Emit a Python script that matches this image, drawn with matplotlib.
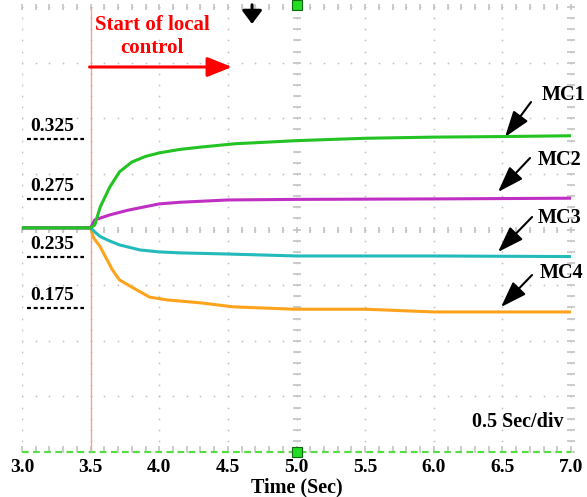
import matplotlib.pyplot as plt
import numpy as np

plt.rcParams['font.family'] = ['Liberation Serif', 'DejaVu Serif']
plt.rcParams['font.weight'] = 'bold'

# Per-unit power share of each microgrid controller
t_mc1 = [3.0, 3.5, 3.53, 3.57, 3.64, 3.71, 3.80, 3.90, 4.0, 4.15, 4.3, 4.55, 5.0, 5.5, 6.0, 6.5, 7.0]
mc1 = [0.250, 0.250, 0.2525, 0.2681, 0.2850, 0.2975, 0.3057, 0.3104, 0.3133, 0.3162, 0.3181,
       0.3209, 0.3235, 0.3255, 0.3265, 0.3270, 0.3277]

t_mc2 = [3.0, 3.5, 3.53, 3.64, 3.77, 4.0, 4.15, 4.5, 5.0, 6.0, 7.0]
mc2 = [0.250, 0.250, 0.2569, 0.2612, 0.2652, 0.2707, 0.2721, 0.2741, 0.2746, 0.2750, 0.2756]

t_mc3 = [3.0, 3.5, 3.53, 3.57, 3.64, 3.71, 3.86, 4.0, 4.15, 4.5, 5.0, 6.0, 7.0]
mc3 = [0.250, 0.250, 0.2479, 0.2455, 0.2432, 0.2412, 0.2386, 0.2376, 0.2371, 0.2365,
       0.2355, 0.2355, 0.2352]

t_mc4 = [3.0, 3.5, 3.52, 3.57, 3.62, 3.66, 3.71, 3.81, 3.93, 4.06, 4.3, 4.54, 4.98, 5.5, 6.0, 7.0]
mc4 = [0.250, 0.250, 0.2450, 0.2402, 0.2315, 0.2195, 0.2080, 0.1986, 0.1877, 0.1844, 0.1810,
       0.1763, 0.1739, 0.1739, 0.1715, 0.1715]

ref_levels = [0.325, 0.275, 0.235, 0.175]
ref_labels = ['0.325', '0.275', '0.235', '0.175']

xticks = [3.0, 3.5, 4.0, 4.5, 5.0, 5.5, 6.0, 6.5, 7.0]
t_switch = 3.5

# vertical scale of the scope screen: value -> screen division (8 divisions)
v_knots = np.array([-1.0, 0.175, 0.235, 0.25, 0.275, 0.325, 2.0])
d_knots = np.array([-21.58, 2.59, 3.507, 4.03, 4.55, 5.63, 40.08])


def to_div(v):
    return np.interp(np.asarray(v, dtype=float), v_knots, d_knots)


def from_div(d):
    return np.interp(np.asarray(d, dtype=float), d_knots, v_knots)


fig = plt.figure(figsize=(5.87, 4.97), dpi=100)
ax = fig.add_axes([0.0375, 0.0905, 0.9353, 0.8954])
ax.set_yscale('function', functions=(to_div, from_div))
ymin, ymax = float(from_div(0)), float(from_div(8))
ax.set_xlim(3.0, 7.0)
ax.set_ylim(ymin, ymax)
for s in ax.spines.values():
    s.set_visible(False)

# graticule: dots every fifth of a division
gcol = '#c4c4c4'
ys_div = from_div(np.arange(9))
xs_fine = np.arange(3.0, 7.0001, 0.1)
ys_fine = from_div(np.arange(41) / 5)
for x in xticks:
    ax.plot(np.full_like(ys_fine, x), ys_fine, ls='none', marker='o', ms=1.3,
            color=gcol, mec='none', zorder=1)
for y in ys_div:
    ax.plot(xs_fine, np.full_like(xs_fine, y), ls='none', marker='o', ms=1.3,
            color=gcol, mec='none', zorder=1)
# centre axes and border carry tick marks
for y in [from_div(4), ymax, from_div(0.05)]:
    ax.plot(xs_fine, np.full_like(xs_fine, y), ls='none', marker='|', ms=5,
            mew=1.2, color=gcol, zorder=1, clip_on=False)
for x in [5.0, 7.0]:
    ax.plot(np.full_like(ys_fine, x), ys_fine, ls='none', marker='_', ms=6,
            mew=1.2, color=gcol, zorder=1, clip_on=False)

# ground reference line and position markers
ax.axhline(ymin, color='#55dd44', lw=1.6, ls=(0, (3, 2)), zorder=2, clip_on=False)
for yy in [0.0, 1.005]:
    ax.plot([5.0], [yy], marker='s', ms=7, color='#22dd22', mec='#116611', mew=0.8,
            transform=ax.get_xaxis_transform(), clip_on=False, zorder=6)
ax.annotate('', xy=(0.419, 0.962), xytext=(0.419, 1.005), xycoords='axes fraction',
            arrowprops=dict(arrowstyle='-|>,head_length=0.8,head_width=0.6',
                            color='black', lw=2.2, shrinkA=0, shrinkB=0),
            annotation_clip=False)

# local control switching instant
ax.axvline(t_switch, color='#f4a0a0', lw=1.0, zorder=2)

ax.plot(t_mc4, mc4, color='#ffa21c', lw=2.2, zorder=3)
ax.plot(t_mc3, mc3, color='#22baba', lw=2.2, zorder=3)
ax.plot(t_mc2, mc2, color='#c02fc4', lw=2.2, zorder=3)
ax.plot(t_mc1, mc1, color='#22c322', lw=2.2, zorder=4)

# reference levels
ytr = ax.get_yaxis_transform()
for lvl, lab in zip(ref_levels, ref_labels):
    ax.plot([0.009, 0.113], [lvl, lvl], color='black', lw=1.6,
            ls=(0, (1.8, 1.2)), transform=ytr, zorder=5)
    ax.annotate(lab, xy=(0.0546, lvl), xycoords=ytr, xytext=(0, 3),
                textcoords='offset points', ha='center', va='bottom',
                fontsize=14, fontweight='bold')

ax.text(0.2368, 0.9337, 'Start of local\ncontrol', color='#ff0000', fontsize=15,
        fontweight='bold', ha='center', va='center', linespacing=1.15,
        transform=ax.transAxes)
ax.annotate('', xy=(0.3825, 0.8652), xytext=(0.123, 0.8652), xycoords='axes fraction',
            arrowprops=dict(arrowstyle='-|>,head_length=1.5,head_width=0.6',
                            color='#ff0000', lw=2.2, shrinkA=0, shrinkB=0))

# curve labels with pointer arrows
tags = ['MC1', 'MC2', 'MC3', 'MC4']
tag_pos = [(0.9854, 0.8022), (0.9800, 0.6562), (0.9800, 0.5258), (0.9818, 0.4022)]
tails = [(0.9271, 0.7865), (0.9253, 0.6607), (0.9290, 0.5281), (0.9290, 0.3978)]
tips = [(0.8798, 0.7079), (0.8670, 0.5843), (0.8670, 0.4494), (0.8725, 0.3258)]
for tag, p, tl, tp in zip(tags, tag_pos, tails, tips):
    ax.text(p[0], p[1], tag, fontsize=14.5, fontweight='bold',
            ha='center', va='center', transform=ax.transAxes)
    ax.annotate('', xy=tp, xytext=tl, xycoords='axes fraction',
                arrowprops=dict(arrowstyle='-|>,head_length=1.6,head_width=0.55',
                                color='black', lw=1.5, shrinkA=0, shrinkB=0))

ax.text(0.9035, 0.0674, '0.5 Sec/div', fontsize=14.5, fontweight='bold',
        ha='center', va='center', transform=ax.transAxes)

ax.set_yticks([])
ax.minorticks_off()
ax.set_xticks(xticks)
ax.set_xticklabels(['%.1f' % x for x in xticks], fontsize=14, fontweight='bold')
ax.tick_params(axis='x', length=0, pad=5)
ax.set_xlabel('Time (Sec)', fontsize=14.5, fontweight='bold', labelpad=1)

fig.savefig('out.png', dpi=100)
